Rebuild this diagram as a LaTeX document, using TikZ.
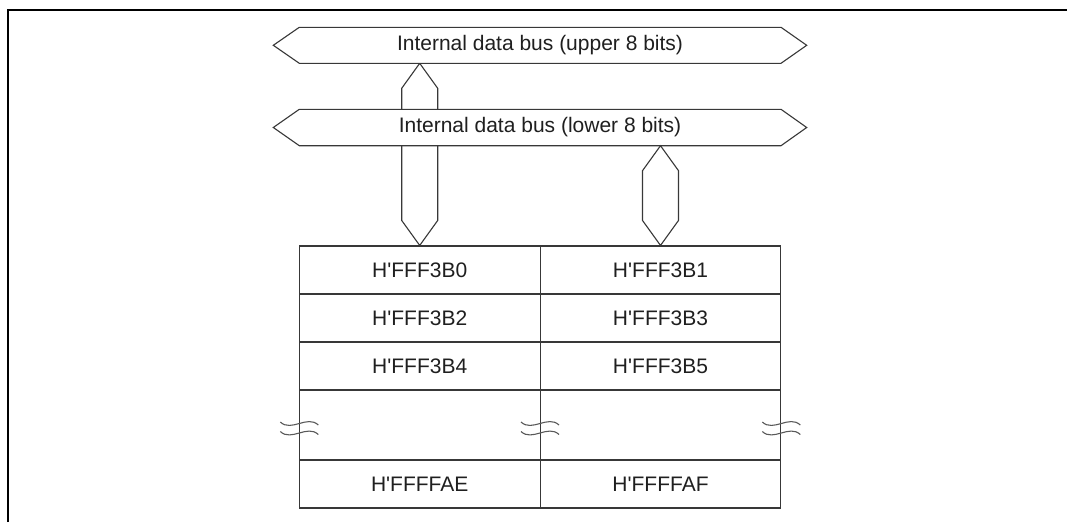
\documentclass[tikz,border=0pt]{standalone}
\usepackage{fontspec}
\setmainfont{Liberation Sans}[Ligatures=TeXOff]
\usetikzlibrary{calc}
\begin{document}
\begin{tikzpicture}[x=1pt,y=-1pt,
  ln/.style={draw=black!78, line width=1.1pt},
  bus/.style={ln, fill=white, line join=miter},
  txt/.style={text=black!88, font=\fontsize{21}{25}\selectfont, inner sep=0pt},
  cell/.style={ln, txt, minimum width=240.8pt, minimum height=48pt},
  tall/.style={cell, minimum height=70pt},
  brk/.style={draw=black!65, line width=1.1pt}]
\useasboundingbox (0,0) rectangle (1067,522);
% frame
\draw[line width=2pt] (8.3,522) -- (8.3,10.3) -- (1067,10.3);

% table cells
\node[cell] (a0) at (419.7,270) {H'FFF3B0};
\node[cell] (b0) at (660.5,270) {H'FFF3B1};
\node[cell] (a1) at (419.7,318) {H'FFF3B2};
\node[cell] (b1) at (660.5,318) {H'FFF3B3};
\node[cell] (a2) at (419.7,366) {H'FFF3B4};
\node[cell] (b2) at (660.5,366) {H'FFF3B5};
\node[tall] (a3) at (419.7,425) {};
\node[tall] (b3) at (660.5,425) {};
\node[cell] (a4) at (419.7,484) {H'FFFFAE};
\node[cell] (b4) at (660.5,484) {H'FFFFAF};

% left vertical bus (upper 8 bits -> even byte)
\coordinate (lt) at (419.7,63.3);
\coordinate (lb) at (a0.north);
\draw[bus] (lt) -- ++(18,25) -- ($(lb)+(18,-25)$) -- (lb) -- ($(lb)+(-18,-25)$) -- ($(lt)+(-18,25)$) -- cycle;

% upper bus
\draw[bus] (273.3,45.3) -- (299.3,27.3) -- (781,27.3) -- (806.7,45.3) -- (781,63.3) -- (299.3,63.3) -- cycle;
\node[txt] (ubus) at (540,45.3) {Internal data bus (upper 8 bits)};

% lower bus
\draw[bus] (273.3,127.5) -- (299.3,109.3) -- (781,109.3) -- (806.7,127.5) -- (781,145.7) -- (299.3,145.7) -- cycle;
\node[txt] (lbus) at (540,127.5) {Internal data bus (lower 8 bits)};

% right vertical bus (lower 8 bits -> odd byte)
\coordinate (rt) at (660.5,145.7);
\coordinate (rb) at (b0.north);
\draw[bus] (rt) -- ++(18,25) -- ($(rb)+(18,-25)$) -- (rb) -- ($(rb)+(-18,-25)$) -- ($(rt)+(-18,25)$) -- cycle;

% break marks
\foreach \x in {299.3,540,781.3}{
  \foreach \y in {423.5,433}{
    \draw[brk] (\x-19,\y-1.5) .. controls (\x-8,\y+9) and (\x+8,\y-9) .. (\x+19,\y+1.5);
  }
}
\end{tikzpicture}
\end{document}
